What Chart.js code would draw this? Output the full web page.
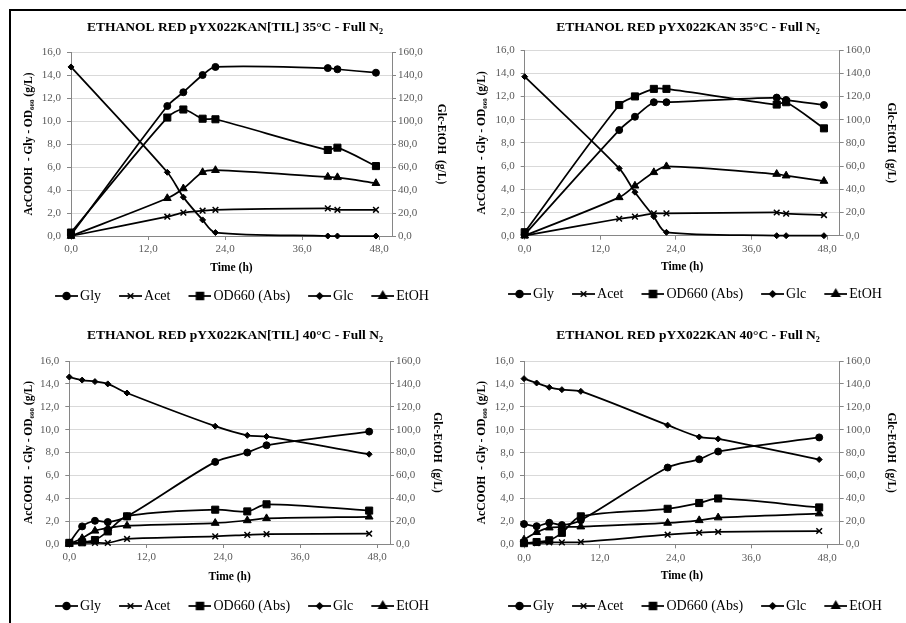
<!DOCTYPE html>
<html>
<head>
<meta charset="utf-8">
<script src="https://cdn.jsdelivr.net/npm/chart.js@4/dist/chart.umd.min.js"></script>
<style>
  body { margin: 0; background: #fff; width: 906px; height: 623px; overflow: hidden; position: relative; }
  canvas { position: absolute; }
  #frame { position: absolute; left: 9px; top: 9px; right: 0; bottom: 0;
           border-left: 2px solid #000; border-top: 2px solid #000; pointer-events: none; }
</style>
</head>
<body>
<canvas id="c1" width="453" height="313" style="left:0;top:0"></canvas>
<canvas id="c2" width="453" height="311" style="left:453px;top:0"></canvas>
<canvas id="c3" width="453" height="312" style="left:0;top:311px"></canvas>
<canvas id="c4" width="453" height="312" style="left:453px;top:311px"></canvas>
<div id="frame"></div>
<script>
// Temps de prélèvement (h)
const time35 = [0, 15, 17.5, 20.5, 22.5, 40, 41.5, 47.5];
const time40 = [0, 2, 4, 6, 9, 22.75, 27.75, 30.75, 46.75];

const seriesNames = ["Gly", "Acet", "OD660 (Abs)", "Glc", "EtOH"];
const xTicks = [0, 12, 24, 36, 48];
const leftTicks = [0, 2, 4, 6, 8, 10, 12, 14, 16];
const rightTicks = [0, 20, 40, 60, 80, 100, 120, 140, 160];

// pYX022KAN[TIL] 35°C
const glyTil35 = [0.1, 11.3, 12.5, 14.0, 14.7, 14.6, 14.5, 14.2];
const acetTil35 = [0, 1.68, 2.03, 2.2, 2.28, 2.4, 2.28, 2.28];
const odTil35 = [0.3, 10.3, 11.0, 10.2, 10.15, 7.48, 7.68, 6.08];
const glcTil35 = [147, 55.4, 33.8, 14.0, 3.0, 0, 0, 0];
const etohTil35 = [0, 32.8, 41.3, 55.4, 57.2, 51.4, 51.0, 45.9];

// pYX022KAN 35°C
const glyKan35 = [0.1, 9.1, 10.25, 11.5, 11.5, 11.9, 11.7, 11.26];
const acetKan35 = [0, 1.46, 1.64, 1.92, 1.92, 2.0, 1.9, 1.78];
const odKan35 = [0.3, 11.26, 12.0, 12.65, 12.65, 11.3, 11.5, 9.25];
const glcKan35 = [137, 58, 37.5, 16.4, 2.9, 0, 0, 0];
const etohKan35 = [0, 33, 43, 54.6, 59.7, 53.1, 51.7, 47.1];

// pYX022KAN[TIL] 40°C
const glyTil40 = [0.1, 1.54, 2.03, 1.92, 2.41, 7.18, 8.0, 8.63, 9.83];
const acetTil40 = [0, 0.1, 0.1, 0.1, 0.44, 0.67, 0.8, 0.87, 0.9];
const odTil40 = [0.1, 0.15, 0.35, 1.1, 2.42, 3.0, 2.85, 3.47, 2.92];
const glcTil40 = [146, 143.3, 142, 140, 132, 103, 95, 94, 78.5];
const etohTil40 = [0, 5, 11.5, 14, 16, 18.3, 20.6, 22.4, 23.8];

// pYX022KAN 40°C
const glyKan40 = [1.77, 1.58, 1.88, 1.68, 2.1, 6.7, 7.42, 8.1, 9.33];
const acetKan40 = [0.1, 0.1, 0.17, 0.17, 0.2, 0.84, 1.02, 1.08, 1.16];
const odKan40 = [0.1, 0.2, 0.35, 1.0, 2.44, 3.1, 3.6, 4.0, 3.22];
const glcKan40 = [144.6, 140.8, 137, 135, 133.5, 104, 93.7, 92, 74];
const etohKan40 = [4, 10.5, 14.5, 15, 15.4, 18.6, 20.9, 23.3, 26.8];

const panels = [
  { id: "c1", title: "ETHANOL RED pYX022KAN[TIL] 35°C - Full N₂", time: time35,
    vals: [glyTil35, acetTil35, odTil35, glcTil35, etohTil35],
    geo: { h: 313, left: 71, right: 392, top: 52, bottom: 236, titleY: 28, xTitleY: 268, r2: 5 } },
  { id: "c2", title: "ETHANOL RED pYX022KAN 35°C - Full N₂", time: time35,
    vals: [glyKan35, acetKan35, odKan35, glcKan35, etohKan35],
    geo: { h: 311, left: 71.7, right: 386.7, top: 50, bottom: 235.7, titleY: 28, xTitleY: 266.7, r2: 7.7 } },
  { id: "c3", title: "ETHANOL RED pYX022KAN[TIL] 40°C - Full N₂", time: time40,
    vals: [glyTil40, acetTil40, odTil40, glcTil40, etohTil40],
    geo: { h: 312, left: 69.3, right: 390, top: 50, bottom: 233, titleY: 25, xTitleY: 265.7, r2: 9.3 } },
  { id: "c4", title: "ETHANOL RED pYX022KAN 40°C - Full N₂", time: time40,
    vals: [glyKan40, acetKan40, odKan40, glcKan40, etohKan40],
    geo: { h: 312, left: 71, right: 386.7, top: 50, bottom: 233.3, titleY: 25, xTitleY: 265.5, r2: 7.7 } },
];

const SERIF = "'Liberation Serif', 'Times New Roman', serif";
const markers = [
  { style: "circle", r: 3.5, axis: "y" },
  { style: "crossRot", r: 4, axis: "y" },
  { style: "rect", r: 5, axis: "y" },
  { style: "rectRot", r: 3, axis: "y2" },
  { style: "triangle", r: 4.5, axis: "y2" },
];

const fmt = (v) => Number(v).toFixed(1).replace(".", ",");

// Icône de légende : trait + marqueur
function legendIcon(m) {
  const c = document.createElement("canvas");
  c.width = 42;
  c.height = 12;
  const g = c.getContext("2d");
  g.strokeStyle = "#000";
  g.fillStyle = "#000";
  g.lineWidth = 1.75;
  g.beginPath();
  g.moveTo(19, 6);
  g.lineTo(42, 6);
  g.stroke();
  g.lineWidth = 1.5;
  Chart.helpers.drawPoint(g, { pointStyle: m.style, radius: m.r, borderWidth: 1.5, rotation: 0 }, 30.5, 6);
  return c;
}
const icons = markers.map(legendIcon);

const LEGEND_PAD = 4;
const LEGEND_H = 14 + LEGEND_PAD + 10;
const PAD_LEFT = 17;

function buildChart(p) {
  const g = p.geo;
  const tickFont = { family: SERIF, size: 11 };
  const axisTitleFont = { family: SERIF, size: 11.5, weight: "bold" };
  const xHeight = g.h - LEGEND_H - g.bottom;

  new Chart(document.getElementById(p.id), {
    type: "line",
    data: {
      datasets: markers.map((m, k) => ({
        label: seriesNames[k],
        data: p.time.map((t, i) => ({ x: t, y: p.vals[k][i] })),
        yAxisID: m.axis,
        borderColor: "#000",
        backgroundColor: "#000",
        borderWidth: 1.75,
        tension: 0.3,
        clip: false,
        pointStyle: m.style,
        pointRadius: m.r,
        pointBorderWidth: m.style === "crossRot" ? 1.5 : 1,
        pointBackgroundColor: "#000",
        pointBorderColor: "#000",
      })),
    },
    options: {
      responsive: false,
      animation: false,
      devicePixelRatio: 1,
      layout: { padding: { left: PAD_LEFT, right: 0, top: 0, bottom: 0 } },
      plugins: {
        tooltip: { enabled: false },
        title: {
          display: true,
          text: p.title,
          color: "#000",
          font: { family: SERIF, size: 13.5, weight: "bold" },
          padding: { top: g.titleY - 8.1, bottom: g.top - g.titleY - 8.1 },
        },
        legend: {
          position: "bottom",
          labels: {
            usePointStyle: true,
            pointStyleWidth: 32,
            padding: LEGEND_PAD,
            color: "#000",
            font: { family: SERIF, size: 14 },
            generateLabels: (chart) =>
              chart.data.datasets.map((ds, i) => ({
                text: ds.label,
                pointStyle: icons[i],
                datasetIndex: i,
                fillStyle: "#000",
                strokeStyle: "#000",
                lineWidth: 0,
                hidden: false,
              })),
          },
        },
      },
      scales: {
        x: {
          type: "linear",
          min: 0,
          max: 50,
          afterBuildTicks: (s) => { s.ticks = xTicks.map((v) => ({ value: v })); },
          afterFit: (s) => { s.height = xHeight; },
          ticks: { callback: fmt, font: tickFont, color: "#595959", padding: 3, maxRotation: 0 },
          grid: { drawOnChartArea: false, tickLength: 4, tickColor: "#868686" },
          border: { color: "#868686" },
          title: {
            display: true,
            text: "Time (h)",
            color: "#000",
            font: axisTitleFont,
            padding: { top: 0, bottom: g.h - LEGEND_H - g.xTitleY - 6.9 },
          },
        },
        y: {
          position: "left",
          min: 0,
          max: 16,
          afterBuildTicks: (s) => { s.ticks = leftTicks.map((v) => ({ value: v })); },
          afterFit: (s) => { s.width = g.left - PAD_LEFT; },
          ticks: { callback: fmt, font: tickFont, color: "#595959", padding: 6 },
          grid: { color: "#d9d9d9", tickColor: "#868686", tickLength: 4 },
          border: { color: "#868686" },
          title: {
            display: true,
            text: "AcCOOH  - Gly - OD₆₆₀ (g/L)",
            color: "#000",
            font: axisTitleFont,
            padding: { top: 5.5, bottom: 0 },
          },
        },
        y2: {
          position: "right",
          min: 0,
          max: 160,
          afterBuildTicks: (s) => { s.ticks = rightTicks.map((v) => ({ value: v })); },
          afterFit: (s) => { s.width = 453 - g.right; },
          ticks: { callback: fmt, font: tickFont, color: "#595959", padding: 2 },
          grid: { drawOnChartArea: false, tickColor: "#868686", tickLength: 4 },
          border: { color: "#868686" },
          title: {
            display: true,
            text: "Glc-EtOH  (g/L)",
            color: "#000",
            font: axisTitleFont,
            padding: { top: g.r2, bottom: g.r2 },
          },
        },
      },
    },
  });
}

panels.forEach(buildChart);
</script>
</body>
</html>
